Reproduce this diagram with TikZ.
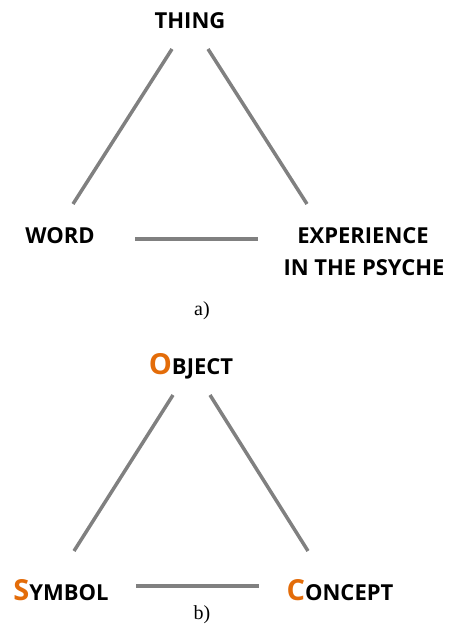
\documentclass[tikz,border=0pt]{standalone}
\usepackage{fontspec}
\setmainfont{Open Sans}
\newfontfamily\capfont{Liberation Serif}
\definecolor{linegray}{HTML}{808080}
\definecolor{accent}{HTML}{E36C09}
\newcommand{\initcap}[1]{{\color{accent}\fontsize{29}{31}\selectfont #1}}
\begin{document}
\begin{tikzpicture}[x=1pt,y=-1pt,
  lbl/.style={inner sep=0pt,anchor=base,font=\fontsize{22}{25}\selectfont\bfseries},
  captxt/.style={inner sep=0pt,font=\capfont\fontsize{20}{22}\selectfont},
  sideline/.style={draw=linegray,line width=3.5pt},
  baseline/.style={draw=linegray,line width=4.5pt}]
\useasboundingbox (0,0) rectangle (452,628);
% a)
\node[lbl] (thing) at (190,29) {THING};
\node[lbl] (word) at (60,243) {WORD};
\node[lbl] (exp) at (363,243) {EXPERIENCE};
\node[lbl] (psy) at (364,275) {IN THE PSYCHE};
\node[captxt] (capa) at (202,311) {a)};
\coordinate (a1) at (172,49);
\coordinate (a2) at (73,204);
\coordinate (a3) at (208,49);
\coordinate (a4) at (307,204);
\coordinate (a5) at (135,239);
\coordinate (a6) at (258,239);
\draw[sideline] (a1) -- (a2);
\draw[sideline] (a3) -- (a4);
\draw[baseline] (a5) -- (a6);
% b)
\node[lbl] (obj) at (191,374) {\initcap{O}BJECT};
\node[lbl] (sym) at (61,600) {\initcap{S}YMBOL};
\node[lbl] (con) at (340,600) {\initcap{C}ONCEPT};
\node[captxt] (capb) at (202,615) {b)};
\coordinate (b1) at (173,395);
\coordinate (b2) at (74,551);
\coordinate (b3) at (210,395);
\coordinate (b4) at (308,551);
\coordinate (b5) at (136,586);
\coordinate (b6) at (259,586);
\draw[sideline] (b1) -- (b2);
\draw[sideline] (b3) -- (b4);
\draw[baseline] (b5) -- (b6);
\end{tikzpicture}
\end{document}
